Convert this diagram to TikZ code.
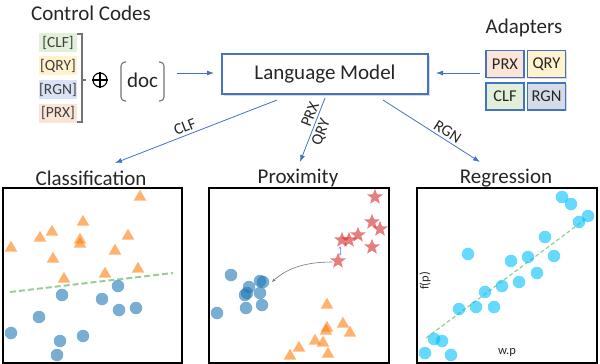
\documentclass[tikz,border=0pt]{standalone}
\usepackage{fontspec}
\setmainfont{Carlito}
\usetikzlibrary{shapes.geometric,arrows.meta,shadows}
\definecolor{lmblue}{HTML}{4472C4}
\definecolor{cgreen}{HTML}{E2F0D9}
\definecolor{cyellow}{HTML}{FFF2CC}
\definecolor{cblue}{HTML}{DAE3F3}
\definecolor{cpink}{HTML}{FBE5D6}
\definecolor{agray}{HTML}{D6DCE5}
\definecolor{mplorange}{HTML}{FF7F0E}
\definecolor{mplblue}{HTML}{1F77B4}
\definecolor{mplred}{HTML}{D62728}
\definecolor{mplgreen}{HTML}{2CA02C}
\definecolor{skyb}{HTML}{00BFFF}
\definecolor{txt}{HTML}{262626}
\begin{document}
\begin{tikzpicture}[x=1pt,y=-1pt,
  lbl/.style={font=\fontsize{21}{25}\selectfont, text=txt, inner sep=0},
  codebox/.style={minimum width=38, minimum height=19, inner sep=0, font=\fontsize{15.5}{18}\selectfont, text=black!75},
  adbox/.style={draw=lmblue, line width=1.3, minimum width=38, minimum height=27, inner sep=0, font=\fontsize{16.5}{19}\selectfont, text=txt, drop shadow={shadow xshift=1.2pt, shadow yshift=-1.2pt, opacity=0.3}},
  conn/.style={draw=lmblue, line width=0.8, -{Latex[length=7,width=5]}},
  alabel/.style={font=\fontsize{16}{18}\selectfont, text=txt, sloped, inner sep=2.5},
  panel/.style={draw=black, line width=1.5},
  brk/.style={draw=black!55, line width=1.1},
  tri/.style={regular polygon, regular polygon sides=3, fill=mplorange, fill opacity=0.6, minimum size=14.5, inner sep=0},
  dotb/.style={circle, fill=mplblue, fill opacity=0.6, minimum size=12.5, inner sep=0},
  dotc/.style={circle, fill=skyb, fill opacity=0.6, minimum size=12.5, inner sep=0},
  redstar/.style={star, star points=5, star point ratio=2.4, fill=mplred, fill opacity=0.6, minimum size=16.5, inner sep=0},
]
\useasboundingbox (0,0) rectangle (600,364);

% ---------- Control codes ----------
\node[lbl] (cctitle) at (91,13) {Control Codes};
\node[codebox, fill=cgreen]  (cclf) at (58,42.5) {[CLF]};
\node[codebox, fill=cyellow] (cqry) at (58,65.5) {[QRY]};
\node[codebox, fill=cblue]   (crgn) at (58,89.5) {[RGN]};
\node[codebox, fill=cpink]   (cprx) at (58,113) {[PRX]};
\draw[brk] (77,34) -- (82,34) -- (82,122) -- (77,122);
\draw[brk] (82,80) -- (86,80);
% oplus
\node[circle, draw=black, line width=1.1, minimum size=14, inner sep=0] (oplus) at (100,80) {};
\draw[line width=1.1] (oplus.north) -- (oplus.south) (oplus.west) -- (oplus.east);
% (doc)
\draw[brk, rounded corners=4] (126,62) -- (121,62) -- (121,101) -- (126,101);
\draw[brk, rounded corners=4] (159,62) -- (164,62) -- (164,101) -- (159,101);
\node[lbl] (doc) at (142.5,80) {doc};

% ---------- Language model ----------
\node[draw=lmblue, line width=2.6, minimum width=206, minimum height=40, inner sep=0,
      font=\fontsize{21}{25}\selectfont, text=txt,
      drop shadow={shadow xshift=1.5pt, shadow yshift=-1.5pt, opacity=0.3}, fill=white] (lm) at (325,74) {Language Model};

% ---------- Adapters ----------
\node[lbl] (adtitle) at (524,28) {Adapters};
\node[adbox, fill=cpink]   (aprx) at (505,64) {PRX};
\node[adbox, fill=cyellow] (aqry) at (546.5,64) {QRY};
\node[adbox, fill=cgreen]  (aclf) at (505,96.5) {CLF};
\node[adbox, fill=agray]   (argn) at (546.5,96.5) {RGN};

% ---------- connectors ----------
\coordinate (docout) at (177,73);
\coordinate (lmin) at (214,73);
\coordinate (adout) at (480,73);
\coordinate (lmin2) at (436,73);
\draw[conn] (docout) -- (lmin);
\draw[conn] (adout) -- (lmin2);

\coordinate (clfs) at (277,100);
\coordinate (clfe) at (115,163);
\coordinate (prxs) at (325,98);
\coordinate (prxe) at (300,162);
\coordinate (rgns) at (383,100);
\coordinate (rgne) at (480,162);
\draw[conn] (clfs) -- node[alabel, above, pos=0.55] {CLF} (clfe);
\draw[conn] (prxs) -- node[alabel, above, pos=0.3] {PRX} node[alabel, below, pos=0.48] {QRY} (prxe);
\draw[conn] (rgns) -- node[alabel, above, pos=0.62] {RGN} (rgne);

% ---------- Panels ----------
\node[lbl] (t1) at (91,178) {Classification};
\node[lbl] (t2) at (298,178) {Proximity};
\node[lbl] (t3) at (506,178) {Regression};
\draw[panel] (3,188) rectangle (182,363);
\draw[panel] (209,188) rectangle (389,363);
\draw[panel] (417,188) rectangle (597,363);

% Classification
\draw[mplgreen, opacity=0.5, line width=2, dash pattern=on 6pt off 3pt] (10,292) -- (173,273);
\foreach \x/\y in {140/197,83/222,52/232,40/238,80/240,80/244,128/236,11/248,115/251,53/259,138/269,105/274,64/279}
  \node[tri] at (\x,\y) {};
\foreach \x/\y in {118/286,62/295,102/299,119/310,136/308,39/317,11/333,83/336,60/341,57/355}
  \node[dotb] at (\x,\y) {};

% Proximity
\foreach \x/\y in {375/197,372/222,380/229,358/235,349/240,342/240,372/247,338/261}
  \node[redstar] at (\x,\y) {};
\draw[{Stealth[length=3,width=3]}-{Stealth[length=3,width=3]}, color=blue!40, line width=0.6] (340,246) -- (340,256);
\draw[{Stealth[length=4,width=3]}-, color=black!55, line width=0.6] (272,282) .. controls (285,270) and (302,262) .. (332,262);
\foreach \x/\y in {231/275,260/281,263/282,249/287,245/295,247/293,260/293,217/313,246/308,262/305}
  \node[dotb] at (\x,\y) {};
\foreach \x/\y in {327/305,343/324,327/328,326/331,350/333,315/341,323/343,299/348,290/356,328/354}
  \node[tri] at (\x,\y) {};

% Regression
\draw[mplgreen, opacity=0.5, line width=1.2, dash pattern=on 4pt off 2.5pt] (426,338) -- (587,218);
\foreach \x/\y in {562/197,571/204,588/216,579/222,545/237,468/254,554/256,528/257,511/261,537/273,519/282,502/286,485/292,459/309,476/307,494/307,434/339,442/341,425/353,451/355}
  \node[dotc] at (\x,\y) {};
\node[font=\fontsize{12.5}{14}\selectfont, text=txt, rotate=90, inner sep=0] (fp) at (425,281) {f(p)};
\node[font=\fontsize{12.5}{14}\selectfont, text=txt, inner sep=0] (wp) at (507,352) {w.p};
\end{tikzpicture}
\end{document}
